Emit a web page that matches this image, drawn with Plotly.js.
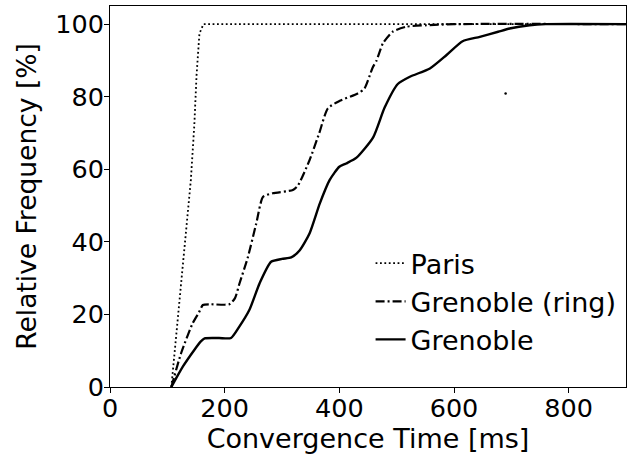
<!DOCTYPE html>
<html>
<head>
<meta charset="utf-8">
<script src="https://cdn.plot.ly/plotly-3.0.1.min.js"></script>
<style>html,body{margin:0;padding:0;background:#fff;}#chart{width:632px;height:454px;}</style>
</head>
<body>
<div id="chart"></div>
<script>
// Paris (dotted)
const parisX = [107, 118, 130, 141, 147, 151, 156, 163, 900];
const parisY = [0, 18.5, 38.6, 57, 72, 86, 97.4, 100, 100];

// Grenoble (ring) (dash-dot)
const ringX = [107, 124, 144, 155, 162, 175, 208, 218, 226, 240, 255, 267, 284, 319, 328, 348, 365, 380, 400, 432, 444, 458, 465, 476, 493, 517, 552, 600, 900];
const ringY = [0, 9.3, 17.5, 20.5, 22.6, 22.8, 22.8, 24.5, 28.6, 35.5, 45, 52.4, 53.4, 54.3, 55.6, 62.5, 70, 76.8, 78.8, 80.9, 82.3, 88, 90, 94.7, 97.9, 99.3, 99.7, 100, 100];

// Grenoble (solid)
const grenX = [107, 127, 147, 158, 165, 190, 211, 225, 243, 261, 281, 300, 316, 331, 348, 366, 383, 400, 412, 430, 459, 479, 502, 523, 558, 587, 615, 645, 677, 697, 732, 760, 900];
const grenY = [0, 5.6, 10.2, 12.5, 13.4, 13.5, 13.5, 16.5, 21.2, 28.6, 34.5, 35.3, 35.7, 37.7, 42.3, 50.6, 57, 60.7, 61.6, 63.2, 68.8, 77, 83.5, 85.5, 87.8, 91.5, 95.3, 96.5, 97.9, 98.8, 99.7, 100, 100];

// stray point visible in the figure
const strayX = [690];
const strayY = [80.9];

const xTicks = [0, 200, 400, 600, 800];
const yTicks = [0, 20, 40, 60, 80, 100];

const FONT = "DejaVu Sans, sans-serif";

const traces = [
  {x: parisX, y: parisY, name: "Paris", mode: "lines",
   line: {color: "#000", width: 1.8, dash: "1.8px,2.6px"}},
  {x: ringX, y: ringY, name: "Grenoble (ring)", mode: "lines",
   line: {color: "#000", width: 2.2, dash: "9px,3px,2px,3px", shape: "spline", smoothing: 0.6}},
  {x: grenX, y: grenY, name: "Grenoble", mode: "lines",
   line: {color: "#000", width: 2.4, shape: "spline", smoothing: 0.6}},
  {x: strayX, y: strayY, mode: "markers", showlegend: false, hoverinfo: "skip",
   marker: {color: "#000", size: 2.5}}
];

const axisCommon = {
  showgrid: false, zeroline: false, showline: true, linecolor: "#000", linewidth: 1,
  mirror: true, ticks: "outside", ticklen: 5, tickwidth: 1, tickcolor: "#000",
  tickfont: {family: FONT, size: 25.5, color: "#000"}
};

const layout = {
  width: 632, height: 454,
  margin: {l: 110, r: 6, t: 6, b: 67},
  paper_bgcolor: "#fff", plot_bgcolor: "#fff",
  font: {family: FONT, color: "#000"},
  xaxis: Object.assign({}, axisCommon, {
    range: [0, 900], tickvals: xTicks, ticktext: xTicks.map(String),
    ticklabelstandoff: -7,
    title: {text: "Convergence Time [ms]", font: {family: FONT, size: 27, color: "#000"}, standoff: 0}
  }),
  yaxis: Object.assign({}, axisCommon, {
    range: [0, 105], tickvals: yTicks, ticktext: yTicks.map(String),
    ticklabelstandoff: -5,
    title: {text: "Relative Frequency [%]", font: {family: FONT, size: 26.5, color: "#000"}, standoff: 10}
  }),
  showlegend: true,
  legend: {x: 0.505, y: 0.06, xanchor: "left", yanchor: "bottom",
    bgcolor: "rgba(255,255,255,0)", borderwidth: 0,
    font: {family: FONT, size: 27, color: "#000"}}
};

Plotly.newPlot("chart", traces, layout, {staticPlot: true, displayModeBar: false});
</script>
</body>
</html>
